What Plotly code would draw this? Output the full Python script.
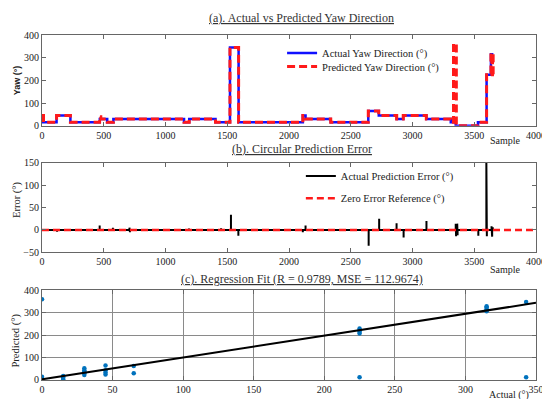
import numpy as np
import plotly.graph_objects as go

# ---------------- Panel (a): actual vs predicted yaw (step segments) ----------------
seg_start = [0, 118, 230, 468, 528, 578, 1150, 1192, 1405, 1522, 1592, 2112, 2134,
             2338, 2642, 2727, 2872, 2925, 3112, 3310, 3350, 3530, 3600, 3635]
seg_end = 3655
actual_yaw = [15, 45, 15, 30, 15, 30, 15, 30, 15, 345, 15, 45, 30,
              15, 65, 45, 30, 45, 30, 15, 0, 15, 225, 315]

pred_start = [0, 12, 118, 230, 466, 476, 528, 578, 1150, 1192, 1405, 1522, 1592, 2112, 2134,
              2338, 2642, 2727, 2872, 2925, 3112, 3310,
              3332, 3355,
              3530, 3600, 3635, 3642, 3648, 3653]
pred_end = 3657
pred_yaw = [45, 15, 45, 15, 40, 30, 15, 30, 15, 30, 15, 345, 15, 45, 30,
            15, 65, 45, 30, 45, 30, 15,
            362, 0,
            15, 225, 320, 212, 318, 225]

# ---------------- Panel (b): circular prediction error spikes ----------------
err_sample = [122, 232, 467, 574, 708, 712, 1190, 1450, 1530, 1590, 2112, 2134, 2460,
              2645, 2730, 2871, 2928, 3113, 3350, 3353, 3362, 3365, 3533, 3598, 3602,
              3640, 3645, 3650]
err_value = [-4, -2, 10, 5, 5, -5, 3, 4, 34, -13, -5, 10, 2,
             -35, 25, 15, -17, 20, 14, -14, 14, -12, -13, 160, -14,
             8, -15, 6]
err_end = 3660
zero_ref_x = [0, 4000]
zero_ref_y = [0, 0]

# ---------------- Panel (c): regression scatter ----------------
sc_actual = [0, 0, 0, 0, 15, 15, 15, 15, 30, 30, 30, 30, 30, 45, 45, 45, 45, 65, 65,
             225, 225, 225, 225, 225, 315, 315, 315, 315, 343, 343]
sc_pred = [360, 15, 5, 0, 18, 12, 5, 0, 22, 30, 37, 44, 52, 65, 44, 33, 25, 62, 30,
           12, 230, 222, 215, 207, 329, 323, 315, 307, 348, 12]
fit_slope = 0.974
fit_intercept = 3
fit_x = [0, 350]

# ---------------- build series ----------------
a_x = seg_start + [seg_end]
a_y = actual_yaw + [actual_yaw[-1]]
p_x = pred_start + [pred_end]
p_y = pred_yaw + [pred_yaw[-1]]

e_x, e_y = [0], [0]
for s, v in zip(err_sample, err_value):
    e_x += [s, s, s]
    e_y += [0, v, 0]
e_x.append(err_end)
e_y.append(0)

fit_y = [fit_slope * v + fit_intercept for v in fit_x]

SERIF = "Liberation Serif"
fig = go.Figure()

fig.add_trace(go.Scatter(x=a_x, y=a_y, mode="lines", line_shape="hv",
                         line=dict(color="#1010ff", width=2.5),
                         name="Actual Yaw Direction (°)", xaxis="x", yaxis="y",
                         legend="legend"))
fig.add_trace(go.Scatter(x=p_x, y=p_y, mode="lines", line_shape="hv",
                         line=dict(color="#ff1a1a", width=3, dash="8px,4px"),
                         name="Predicted Yaw Direction (°)", xaxis="x", yaxis="y",
                         legend="legend2"))
fig.add_trace(go.Scatter(x=e_x, y=e_y, mode="lines",
                         line=dict(color="black", width=2),
                         name="Actual Prediction Error (°)", xaxis="x2", yaxis="y2",
                         legend="legend3"))
fig.add_trace(go.Scatter(x=zero_ref_x, y=zero_ref_y, mode="lines",
                         line=dict(color="#ff1a1a", width=2.5, dash="7px,4px"),
                         name="Zero Error Reference (°)", xaxis="x2", yaxis="y2",
                         legend="legend4"))
fig.add_trace(go.Scatter(x=sc_actual, y=sc_pred, mode="markers",
                         marker=dict(color="#0072BD", size=4.5),
                         showlegend=False, xaxis="x3", yaxis="y3"))
fig.add_trace(go.Scatter(x=fit_x, y=fit_y, mode="lines",
                         line=dict(color="black", width=2),
                         showlegend=False, xaxis="x3", yaxis="y3"))

tickfont = dict(family=SERIF, size=10, color="#1a1a1a")
axcommon = dict(showline=True, linecolor="#666", linewidth=1, ticks="inside",
                ticklen=4, tickcolor="#666", tickfont=tickfont, zeroline=False)

fig.update_layout(
    width=550, height=399,
    margin=dict(l=34, r=14, t=27, b=26),
    paper_bgcolor="white", plot_bgcolor="white",
    xaxis=dict(domain=[0, 1], range=[0, 4000], tickvals=[0, 500, 1000, 1500, 2000, 2500, 3000, 3500, 4000],
               mirror="ticks", showgrid=False, anchor="y", **axcommon),
    yaxis=dict(domain=[0.737, 1], range=[0, 400], tickvals=[0, 100, 200, 300, 400],
               mirror="ticks", showgrid=False, anchor="x", **axcommon),
    xaxis2=dict(domain=[0, 1], range=[0, 4000], tickvals=[0, 500, 1000, 1500, 2000, 2500, 3000, 3500, 4000],
                mirror="ticks", showgrid=False, anchor="y2", **axcommon),
    yaxis2=dict(domain=[0.3699, 0.6301], range=[-50, 150], tickvals=[-50, 0, 50, 100, 150],
                mirror="ticks", showgrid=False, anchor="x2", **axcommon),
    xaxis3=dict(domain=[0, 1], range=[0, 350], tickvals=[0, 50, 100, 150, 200, 250, 300, 350],
                mirror="ticks", showgrid=True, gridcolor="#8a8a8a", gridwidth=1, anchor="y3", **axcommon),
    yaxis3=dict(domain=[0, 0.2601], range=[0, 400], tickvals=[0, 100, 200, 300, 400],
                mirror="ticks", showgrid=True, gridcolor="#8a8a8a", gridwidth=1, anchor="x3", **axcommon),
    showlegend=True,
)

legfont = dict(family=SERIF, size=10.5, color="#222")
legcommon = dict(xanchor="left", yanchor="top", bgcolor="rgba(0,0,0,0)",
                 borderwidth=0, font=legfont, itemwidth=30)
fig.update_layout(
    legend=dict(x=0.486, y=0.990, **legcommon),
    legend2=dict(x=0.486, y=0.951, **legcommon),
    legend3=dict(x=0.524, y=0.633, **legcommon),
    legend4=dict(x=0.524, y=0.569, **legcommon),
)

def px_x(px):
    return (px - 34) / 502

def px_y(py):
    return (373 - py) / 346

titles = [("(a). Actual vs Predicted Yaw Direction", 10),
          ("(b). Circular Prediction Error", 141),
          ("(c). Regression Fit (R = 0.9789, MSE = 112.9674)", 272)]
for txt, yy in titles:
    fig.add_annotation(text="<u>" + txt + "</u>", x=px_x(298), y=px_y(yy), xref="paper", yref="paper",
                       showarrow=False, xanchor="center", yanchor="middle",
                       font=dict(family=SERIF, size=12, color="#333"))

ytitles = [("<b>Yaw (°)</b>", 72, "Liberation Sans", 9),
           ("Error (°)", 192, SERIF, 10.5),
           ("Predicted (°)", 333, SERIF, 10.5)]
for txt, yy, fam, sz in ytitles:
    fig.add_annotation(text=txt, x=px_x(8), y=px_y(yy), xref="paper", yref="paper",
                       showarrow=False, xanchor="center", yanchor="middle", textangle=-90,
                       font=dict(family=fam, size=sz, color="#222"))

xtitles = [("Sample", 505, 133), ("Sample", 505, 262), ("Actual (°)", 509, 388)]
for txt, xx, yy in xtitles:
    fig.add_annotation(text=txt, x=px_x(xx), y=px_y(yy), xref="paper", yref="paper",
                       showarrow=False, xanchor="center", yanchor="middle",
                       font=dict(family=SERIF, size=10, color="#222"))

fig.write_html("out.html")
